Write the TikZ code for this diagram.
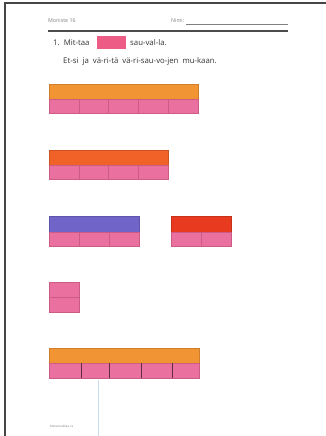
\documentclass[tikz,border=0pt]{standalone}
\usepackage{fontspec}
\setmainfont{Open Sans}
\definecolor{pinkc}{RGB}{234,112,160}
\definecolor{pinkline}{RGB}{205,92,132}
\definecolor{orangec}{RGB}{240,148,52}
\definecolor{redorange}{RGB}{240,98,40}
\definecolor{purplec}{RGB}{112,100,200}
\definecolor{redc}{RGB}{232,58,30}
\definecolor{headpink}{RGB}{236,92,132}
\definecolor{framec}{RGB}{70,70,70}
\definecolor{bluel}{RGB}{200,220,240}
\tikzset{
  cellbox/.style={fill=pinkc, draw=pinkline, line width=0.4pt},
  topbar/.style={draw=#1!85!black, line width=0.4pt, fill=#1},
  small/.style={font=\fontsize{5.3}{6}\selectfont, text=gray, inner sep=0pt, anchor=west},
  body/.style={font=\fontsize{7.8}{9}\selectfont, text=black!80, inner sep=0pt, anchor=west},
}
\begin{document}
\begin{tikzpicture}[x=1pt,y=-1pt]
\useasboundingbox (0,0) rectangle (326,436);
\fill[white] (0,0) rectangle (326,436);
% frame
\draw[framec, line width=1.4pt] (5,436) -- (5,3) -- (326,3);
% header
\node[small] (hdr) at (48,21) {Moniste 16};
\node[small] (nimi) at (171,21) {Nimi:};
\draw[gray, line width=0.4pt] (186,24) -- (288,24);
\draw[black!70, line width=1.2pt] (48,31) -- (288,31);
\node[body] (q1) at (53,43) {1.\ \ Mit-taa};
\fill[headpink] (97,36) rectangle (126,49);
\node[body] (q1b) at (130,43) {sau-val-la.};
\node[body] (q2) at (63,61) {Et-si\ \ ja\ \ vä-ri-tä\ \ vä-ri-sau-vo-jen\ \ mu-kaan.};
% bar 1
\draw[topbar=orangec] (49,84) rectangle (198,99);
\foreach \i in {0,...,4} \draw[cellbox] ({49+\i*29.8},99) rectangle ({49+(\i+1)*29.8},113);
% bar 2
\draw[topbar=redorange] (49,150) rectangle (168,165);
\foreach \i in {0,...,3} \draw[cellbox] ({49+\i*29.75},165) rectangle ({49+(\i+1)*29.75},179);
% bar 3
\draw[topbar=purplec] (49,216) rectangle (139,232);
\foreach \i in {0,...,2} \draw[cellbox] ({49+\i*30},232) rectangle ({49+(\i+1)*30},246);
% bar 4
\draw[topbar=redc] (171,216) rectangle (231,232);
\foreach \i in {0,...,1} \draw[cellbox] ({171+\i*30},232) rectangle ({171+(\i+1)*30},246);
% unit
\draw[cellbox] (49,282) rectangle (79,297);
\draw[cellbox] (49,297) rectangle (79,312);
% bar 5
\draw[topbar=orangec] (49,348) rectangle (199,363);
\fill[pinkc] (49,363) rectangle (199,378);
\draw[pinkline, line width=0.4pt] (49,363) rectangle (199,378);
\foreach \x in {81,109,141,172} \draw[black!60!pinkc, line width=0.6pt] (\x,363) -- (\x,378);
% blue margin line
\draw[bluel, line width=0.8pt] (98,380) -- (98,436);
\node[small, font=\fontsize{3}{4}\selectfont] (foot) at (50,426) {Matematiikka 1a};
\end{tikzpicture}
\end{document}
